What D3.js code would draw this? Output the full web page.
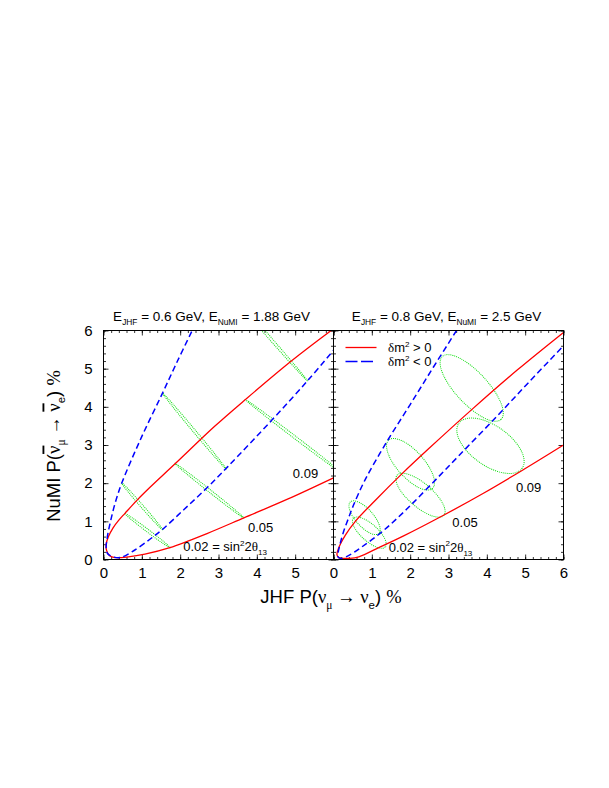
<!DOCTYPE html>
<meta charset="utf-8">
<style>
body { margin: 0; background: #fff; }
svg { display: block; font-family: 'Liberation Sans', Arial, sans-serif; }
text { white-space: pre; }
.frame { fill: none; stroke: #000; stroke-width: 1; }
.axis path.domain { display: none; }
.axis line { stroke: #000; stroke-width: 0.8; }
.red { fill: none; stroke: #f00; stroke-width: 1.3; }
.blue { fill: none; stroke: #00f; stroke-width: 1.5; stroke-dasharray: 6,3.5; }
.ell { fill: none; stroke: #1d1; stroke-width: 1; stroke-dasharray: 1,1; }
.bar { text-decoration: overline; }
</style>
<svg width="609" height="788"></svg>
<script src="https://d3js.org/d3.v7.min.js"></script>
<script>
// ticks
var xTicks = [0, 1, 2, 3, 4, 5, 6];
var yTicks = [0, 1, 2, 3, 4, 5, 6];
var leftXLabels = [0, 1, 2, 3, 4, 5];

// beam energies for each panel [E_JHF, E_NuMI]
var energies = [["0.6", "1.88"], ["0.8", "2.5"]];
var s13Labels = ["0.02", "0.05", "0.09"];

// trajectories: [P(nu), P(nubar)] in %
var leftRed = [[6.05,6.08],[5.94,6.0],[4.9,5.2],[3.7,4.19],[2.9,3.49],[1.86,2.5],[1.2,1.88],[0.87,1.55],[0.56,1.21],[0.4,1.03],[0.25,0.83],[0.13,0.6],[0.07,0.4],[0.08,0.24],[0.16,0.1],[0.3,0.05],[0.65,0.07],[1.08,0.14],[1.73,0.31],[2.7,0.68],[3.66,1.09],[4.8,1.58],[6.0,2.14]];
var leftBlue = [[2.3,5.97],[1.93,5.2],[1.54,4.36],[0.98,3.18],[0.48,2.01],[0.31,1.5],[0.19,1.03],[0.1,0.59],[0.07,0.29],[0.11,0.15],[0.22,0.08],[0.43,0.05],[0.74,0.2],[1.21,0.53],[1.54,0.79],[2.1,1.31],[2.7,1.88],[3.25,2.44],[4.38,3.64],[5.32,4.68],[6.0,5.48]];
var rightRed = [[6.0,5.95],[4.8,4.97],[3.62,3.94],[2.48,2.9],[1.79,2.25],[1.1,1.56],[0.57,1.0],[0.31,0.64],[0.13,0.29],[0.09,0.13],[0.14,0.05],[0.24,0.03],[0.4,0.03],[0.66,0.07],[1.22,0.33],[1.83,0.62],[2.87,1.16],[3.9,1.73],[4.93,2.34],[6.0,3.0]];
var rightBlue = [[3.21,6.0],[2.6,5.03],[2.0,4.06],[1.37,3.05],[0.82,2.08],[0.52,1.42],[0.39,1.08],[0.26,0.72],[0.17,0.4],[0.12,0.18],[0.11,0.08],[0.18,0.03],[0.39,0.1],[0.74,0.33],[1.27,0.73],[1.88,1.29],[2.53,1.95],[3.3,2.75],[4.27,3.76],[5.1,4.65],[6.0,5.6]];

// CP ellipses: major axis end points and half width (all in %)
var leftEllipses = [
  [0.47,2.01, 1.54,0.78, 0.035], [0.55,1.21, 1.74,0.31, 0.035],
  [1.54,4.36, 3.20,2.37, 0.035], [1.86,2.52, 3.66,1.09, 0.035],
  [2.94,7.41, 5.32,4.68, 0.035], [3.70,4.19, 6.20,2.28, 0.035]
];
var rightEllipses = [
  [0.44,1.51, 1.18,0.68, 0.23], [0.52,1.08, 1.35,0.33, 0.22],
  [1.44,3.13, 2.58,1.86, 0.35], [1.66,2.21, 2.88,1.16, 0.31],
  [2.84,5.32, 4.37,3.67, 0.42], [3.27,3.57, 4.92,2.39, 0.52]
];

var svg = d3.select("svg");
var top0 = 330.5, bot0 = 559.5, pw = 230;
var greek = "'Liberation Serif', serif";

function rich(sel, parts, size) {
  var cur = 0;
  parts.forEach(function(p) {
    var shift = p.sub ? 0.3 * size : p.sup ? -0.42 * size : 0;
    sel.append("tspan")
      .attr("class", p.bar ? "bar" : null)
      .attr("dy", shift - cur)
      .attr("font-size", (p.sub || p.sup) ? size * 0.62 : size)
      .attr("font-family", p.g ? greek : null)
      .text(p.t);
    cur = shift;
  });
}

function panel(i, x0, red, blue, ells, xLabels, lbl) {
  var x = d3.scaleLinear().domain([0, 6]).range([x0, x0 + pw]);
  var y = d3.scaleLinear().domain([0, 6]).range([bot0, top0]);
  var g = svg.append("g");

  g.append("clipPath").attr("id", "clip" + i)
    .append("rect").attr("x", x0).attr("y", top0).attr("width", pw).attr("height", bot0 - top0);

  var minor = d3.range(0, 6.001, 0.2);
  function sides() {
    return [
      [d3.axisBottom(x), "translate(0," + bot0 + ")"],
      [d3.axisTop(x), "translate(0," + top0 + ")"],
      [d3.axisLeft(y), "translate(" + x0 + ",0)"],
      [d3.axisRight(y), "translate(" + (x0 + pw) + ",0)"]
    ];
  }
  sides().forEach(function(s) {
    g.append("g").attr("class", "axis").attr("transform", s[1])
      .call(s[0].tickValues(minor).tickSizeInner(-2.5).tickSizeOuter(0).tickFormat(""));
  });
  sides().forEach(function(s, k) {
    g.append("g").attr("class", "axis").attr("transform", s[1])
      .call(s[0].tickValues(k < 2 ? xTicks : yTicks).tickSizeInner(-5).tickSizeOuter(0).tickFormat(""));
  });

  // tick labels
  var bx = g.append("g").attr("class", "axis").attr("transform", "translate(0," + bot0 + ")")
    .call(d3.axisBottom(x).tickValues(xLabels).tickSize(0).tickPadding(8).tickFormat(d3.format("d")));
  bx.selectAll("text").attr("font-size", 15).attr("font-family", null).attr("fill", "#000");
  if (i === 0) {
    var ly = g.append("g").attr("class", "axis").attr("transform", "translate(" + x0 + ",0)")
      .call(d3.axisLeft(y).tickValues(yTicks).tickSize(0).tickPadding(11).tickFormat(d3.format("d")));
    ly.selectAll("text").attr("font-size", 15).attr("font-family", null).attr("fill", "#000");
  }

  var plot = g.append("g").attr("clip-path", "url(#clip" + i + ")");

  plot.selectAll("ellipse").data(ells).enter().append("ellipse")
    .attr("class", "ell")
    .each(function(d) {
      var ax1 = x(d[0]), ay1 = y(d[1]), ax2 = x(d[2]), ay2 = y(d[3]);
      var rx = Math.hypot(ax2 - ax1, ay2 - ay1) / 2;
      var ry = y(0) - y(d[4]);
      var ang = Math.atan2(ay2 - ay1, ax2 - ax1) * 180 / Math.PI;
      var cx = (ax1 + ax2) / 2, cy = (ay1 + ay2) / 2;
      d3.select(this).attr("cx", cx).attr("cy", cy).attr("rx", rx).attr("ry", ry)
        .attr("transform", "rotate(" + ang + "," + cx + "," + cy + ")");
    });

  var line = d3.line().x(function(d) { return x(d[0]); }).y(function(d) { return y(d[1]); })
    .curve(d3.curveCatmullRom.alpha(0.5));
  plot.append("path").attr("class", "red").attr("d", line(red));
  plot.append("path").attr("class", "blue").attr("d", line(blue));

  g.append("rect").attr("class", "frame").attr("x", x0).attr("y", top0)
    .attr("width", pw).attr("height", bot0 - top0);

  // sin^2 2theta labels
  lbl.forEach(function(p, k) {
    var t = g.append("text").attr("x", x(p[0])).attr("y", y(p[1])).attr("font-size", 13);
    if (k < 2) t.text(s13Labels[2 - k]);
    else rich(t, [{t: s13Labels[0] + " = sin"}, {t: "2", sup: true}, {t: "2"}, {t: "θ", g: true}, {t: "13", sub: true}], 13);
  });

  // panel title
  var e = energies[i];
  var tt = svg.append("text").attr("x", x(i === 0 ? 2.82 : 2.95)).attr("y", 320.5)
    .attr("text-anchor", "middle");
  rich(tt, [{t: "E"}, {t: "JHF", sub: true}, {t: " = " + e[0] + " GeV, E"}, {t: "NuMI", sub: true}, {t: " = " + e[1] + " GeV"}], 13.5);
}

panel(0, 103.5, leftRed, leftBlue, leftEllipses, leftXLabels, [[4.94, 2.14], [3.77, 0.71], [2.08, 0.22]]);
panel(1, 333.5, rightRed, rightBlue, rightEllipses, xTicks, [[4.76, 1.77], [3.10, 0.86], [1.44, 0.2]]);

// legend
var leg = svg.append("g");
leg.append("line").attr("class", "red").attr("x1", 345.5).attr("x2", 376.5).attr("y1", 347.5).attr("y2", 347.5);
leg.append("line").attr("class", "blue").attr("x1", 345.5).attr("x2", 376.5).attr("y1", 361.5).attr("y2", 361.5)
  .style("stroke-dasharray", "12,3.5");
rich(leg.append("text").attr("x", 388).attr("y", 352), [{t: "δ", g: true}, {t: "m"}, {t: "2", sup: true}, {t: " > 0"}], 13);
rich(leg.append("text").attr("x", 388).attr("y", 366), [{t: "δ", g: true}, {t: "m"}, {t: "2", sup: true}, {t: " < 0"}], 13);

// axis titles
var xt = svg.append("text").attr("x", 331).attr("y", 603).attr("text-anchor", "middle");
rich(xt, [{t: "JHF P("}, {t: "ν", g: true}, {t: "μ", g: true, sub: true}, {t: " → ", g: true}, {t: "ν", g: true}, {t: "e", sub: true}, {t: ") "}, {t: "%", g: true}], 18.5);

var yt = svg.append("text").attr("transform", "translate(59.5,446) rotate(-90)").attr("text-anchor", "middle");
rich(yt, [{t: "NuMI P("}, {t: "ν", g: true, bar: true}, {t: "μ", g: true, sub: true}, {t: " → ", g: true}, {t: "ν", g: true, bar: true}, {t: "e", sub: true}, {t: ") "}, {t: "%", g: true}], 18.5);
</script>
